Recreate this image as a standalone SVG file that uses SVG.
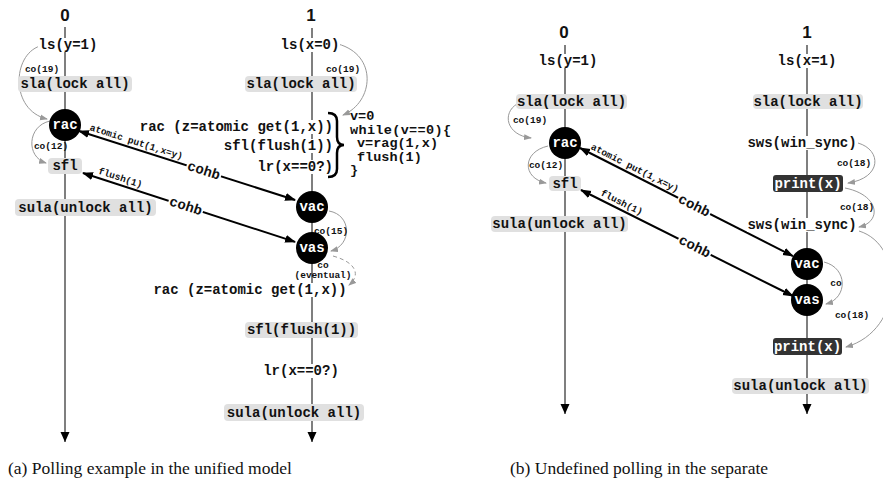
<svg xmlns="http://www.w3.org/2000/svg" width="883" height="492" viewBox="0 0 883 492">
<style>
.m{font-family:"Liberation Mono","DejaVu Sans Mono",monospace;font-weight:bold;fill:#111}
.l{font-size:14px}
.k{font-size:13.5px}
.s{font-size:9.5px}
.c{text-anchor:middle}
.e{text-anchor:end}
.num{font-family:"Liberation Sans",Arial,sans-serif;font-size:17px;font-weight:bold;text-anchor:middle;fill:#111}
.box{fill:#e0e0e0}
.dbox{fill:#333}
.thread{stroke:#555;stroke-width:1.5;fill:none}
.arc{fill:none;stroke:#999;stroke-width:1}
.cohb{stroke:#000;stroke-width:2;fill:none}
.bg{fill:#fff}
.cap{font-family:"Liberation Serif","DejaVu Serif",serif;font-size:17.5px;fill:#111}
</style>
<defs>
<marker id="tend" markerUnits="userSpaceOnUse" markerWidth="10" markerHeight="12" refX="10" refY="4.5" orient="auto" viewBox="0 0 10 9"><path d="M0,0 L10,4.5 L0,9 z" fill="#000"/></marker>
<marker id="ch" markerUnits="userSpaceOnUse" markerWidth="11" markerHeight="9" refX="10" refY="4" orient="auto-start-reverse" viewBox="0 0 11 8"><path d="M0,0 L11,4 L0,8 z" fill="#000"/></marker>
<marker id="ga" markerUnits="userSpaceOnUse" markerWidth="8" markerHeight="7" refX="7" refY="3" orient="auto" viewBox="0 0 8 6"><path d="M0,0 L8,3 L0,6 z" fill="#999"/></marker>
</defs>
<rect width="883" height="492" fill="#fff"/>

<g id="threads">
<line class="thread" x1="65" y1="27" x2="65" y2="442" marker-end="url(#tend)"/>
<line class="thread" x1="312" y1="28" x2="312" y2="442" marker-end="url(#tend)"/>
<line class="thread" x1="565" y1="45" x2="565" y2="414" marker-end="url(#tend)"/>
<line class="thread" x1="807" y1="45" x2="807" y2="414" marker-end="url(#tend)"/>
</g>

<g id="connectors">
<path class="arc" d="M40,46 C12,55 10,110 47,119" marker-end="url(#ga)"/>
<path class="arc" d="M50,121 C27,126 26,157 46,163" marker-end="url(#ga)"/>
<path class="arc" d="M338,44 C378,55 374,102 343,115" marker-end="url(#ga)"/>
<path class="arc" d="M329,211 C352,215 352,245 331,251" marker-end="url(#ga)"/>
<path class="arc" d="M333,256 C358,263 360,276 349,285" stroke-dasharray="4,3" marker-end="url(#ga)"/>
<path class="arc" d="M517,104 C502,113 506,135 531,138" marker-end="url(#ga)"/>
<path class="arc" d="M548,146 C522,152 522,178 546,183" marker-end="url(#ga)"/>
<path class="arc" d="M858,143 C882,150 882,178 848,183" marker-end="url(#ga)"/>
<path class="arc" d="M845,188 C880,195 882,222 859,227" marker-end="url(#ga)"/>
<path class="arc" d="M859,231 C905,245 905,330 846,347" marker-end="url(#ga)"/>
<path class="arc" d="M824,262 C848,268 848,298 826,304" marker-end="url(#ga)"/>
<text class="m s c" x="42" y="72">co(19)</text>
<text class="m s c" x="51" y="149">co(12)</text>
<text class="m s c" x="343" y="72">co(19)</text>
<text class="m s c" x="331" y="234">co(15)</text>
<text class="m s c" x="323" y="268">co</text>
<text class="m s c" x="323" y="278">(eventual)</text>
<text class="m s c" x="530" y="123">co(19)</text>
<text class="m s c" x="546" y="168">co(12)</text>
<text class="m s c" x="854" y="166">co(18)</text>
<text class="m s c" x="857" y="210">co(18)</text>
<text class="m s c" x="852" y="318">co(18)</text>
<text class="m s c" x="836" y="286">co</text>

<g transform="translate(79,131) rotate(17.7)">
<line class="cohb" x1="0" y1="0" x2="226.8" y2="0" marker-start="url(#ch)" marker-end="url(#ch)"/>
<text class="m s c" x="58" y="-4">atomic put(1,x=y)</text>
<rect class="bg" x="113" y="-7" width="36" height="14"/>
<text class="m l c" x="131" y="4">cohb</text>
</g>
<g transform="translate(83,173) rotate(18)">
<line class="cohb" x1="0" y1="0" x2="223" y2="0" marker-start="url(#ch)" marker-end="url(#ch)"/>
<text class="m s c" x="37" y="-4">flush(1)</text>
<rect class="bg" x="90" y="-7" width="36" height="14"/>
<text class="m l c" x="108" y="4">cohb</text>
</g>
<g transform="translate(580,148) rotate(26.9)">
<line class="cohb" x1="0" y1="0" x2="238.8" y2="0" marker-start="url(#ch)" marker-end="url(#ch)"/>
<text class="m s c" x="58" y="-4">atomic put(1,x=y)</text>
<rect class="bg" x="110" y="-7" width="36" height="14"/>
<text class="m l c" x="128" y="4">cohb</text>
</g>
<g transform="translate(581,190) rotate(26.57)">
<line class="cohb" x1="0" y1="0" x2="237" y2="0" marker-start="url(#ch)" marker-end="url(#ch)"/>
<text class="m s c" x="42" y="-4">flush(1)</text>
<rect class="bg" x="109" y="-7" width="36" height="14"/>
<text class="m l c" x="127" y="4">cohb</text>
</g>
</g>

<!-- Panel a, thread 0 -->
<g id="a-t0"><text class="num" x="65" y="21">0</text></g>
<g id="a-ls0"><rect class="bg" x="38" y="38" width="60" height="14"/><text class="m l c" x="68" y="49">ls(y=1)</text></g>
<g id="a-sla0"><rect class="box" x="18" y="76" width="114" height="16" rx="4"/><text class="m l c" x="75" y="88">sla(lock all)</text></g>
<g id="a-rac"><circle cx="65" cy="125" r="16" fill="#000"/><text class="m l c" x="65" y="129" style="fill:#fff">rac</text></g>
<g id="a-sfl"><rect class="box" x="48" y="158" width="34" height="16" rx="4"/><text class="m l c" x="65" y="170">sfl</text></g>
<g id="a-sula0"><rect class="box" x="15" y="199" width="141" height="17" rx="4"/><text class="m l c" x="85.5" y="212">sula(unlock all)</text></g>

<!-- Panel a, thread 1 -->
<g id="a-t1"><text class="num" x="311" y="21">1</text></g>
<g id="a-ls1"><rect class="bg" x="280" y="38" width="60" height="14"/><text class="m l c" x="310" y="49">ls(x=0)</text></g>
<g id="a-sla1"><rect class="box" x="245" y="76" width="112" height="16" rx="4"/><text class="m l c" x="301" y="88">sla(lock all)</text></g>
<g id="a-code">
<rect class="bg" x="138" y="120" width="196" height="14"/>
<text class="m l e" x="333" y="131">rac (z=atomic get(1,x))</text>
<rect class="bg" x="222" y="139" width="112" height="14"/>
<text class="m l e" x="333" y="150">sfl(flush(1))</text>
<rect class="bg" x="256" y="160" width="78" height="14"/>
<text class="m l e" x="333" y="171">lr(x==0?)</text>
<path d="M328,113 Q337,113 337,121 L337,137 Q337,145 344,145 Q337,145 337,153 L337,169 Q337,177 328,177" fill="none" stroke="#000" stroke-width="2.5"/>
<text class="m k" x="350" y="120">v=0</text>
<text class="m k" x="350" y="133.5" textLength="101">while(v==0){</text>
<text class="m k" x="357" y="147">v=rag(1,x)</text>
<text class="m k" x="357" y="160.5">flush(1)</text>
<text class="m k" x="350" y="174">}</text>
</g>
<g id="a-vac"><circle cx="312" cy="207" r="16" fill="#000"/><text class="m l c" x="312" y="211" style="fill:#fff">vac</text></g>
<g id="a-vas"><circle cx="312" cy="248" r="16" fill="#000"/><text class="m l c" x="312" y="252" style="fill:#fff">vas</text></g>
<g id="a-rac2"><rect class="bg" x="152" y="283" width="196" height="14"/><text class="m l c" x="250" y="294">rac (z=atomic get(1,x))</text></g>
<g id="a-sfl2"><rect class="box" x="245" y="322" width="113" height="16" rx="4"/><text class="m l c" x="301.5" y="334">sfl(flush(1))</text></g>
<g id="a-lr2"><rect class="bg" x="263" y="364" width="78" height="14"/><text class="m l c" x="301" y="375">lr(x==0?)</text></g>
<g id="a-sula1"><rect class="box" x="224" y="404" width="140" height="17" rx="4"/><text class="m l c" x="294" y="417">sula(unlock all)</text></g>

<!-- Panel b, thread 0 -->
<g id="b-t0"><text class="num" x="564" y="38">0</text></g>
<g id="b-ls0"><rect class="bg" x="538" y="54" width="60" height="14"/><text class="m l c" x="568" y="65">ls(y=1)</text></g>
<g id="b-sla0"><rect class="box" x="516" y="94" width="111" height="15" rx="4"/><text class="m l c" x="571.5" y="106">sla(lock all)</text></g>
<g id="b-rac"><circle cx="565" cy="143" r="16" fill="#000"/><text class="m l c" x="565" y="147" style="fill:#fff">rac</text></g>
<g id="b-sfl"><rect class="box" x="549" y="176" width="32" height="15" rx="4"/><text class="m l c" x="565" y="188">sfl</text></g>
<g id="b-sula0"><rect class="box" x="491" y="216" width="137" height="16" rx="4"/><text class="m l c" x="559.5" y="228">sula(unlock all)</text></g>

<!-- Panel b, thread 1 -->
<g id="b-t1"><text class="num" x="807" y="38">1</text></g>
<g id="b-ls1"><rect class="bg" x="777" y="54" width="60" height="14"/><text class="m l c" x="807" y="65">ls(x=1)</text></g>
<g id="b-sla1"><rect class="box" x="753" y="94" width="110" height="15" rx="4"/><text class="m l c" x="808" y="106">sla(lock all)</text></g>
<g id="b-sws1"><rect class="bg" x="747" y="136" width="111" height="14"/><text class="m l c" x="802" y="147">sws(win_sync)</text></g>
<g id="b-print1"><rect class="dbox" x="773" y="175" width="70" height="17" rx="3"/><text class="m l c" x="808" y="188" style="fill:#fff">print(x)</text></g>
<g id="b-sws2"><rect class="bg" x="747" y="218" width="111" height="14"/><text class="m l c" x="802" y="229">sws(win_sync)</text></g>
<g id="b-vac"><circle cx="807" cy="264" r="16" fill="#000"/><text class="m l c" x="807" y="268" style="fill:#fff">vac</text></g>
<g id="b-vas"><circle cx="807" cy="300" r="16" fill="#000"/><text class="m l c" x="807" y="304" style="fill:#fff">vas</text></g>
<g id="b-print2"><rect class="dbox" x="773" y="338" width="69" height="17" rx="3"/><text class="m l c" x="807.5" y="351" style="fill:#fff">print(x)</text></g>
<g id="b-sula1"><rect class="box" x="732" y="378" width="137" height="16" rx="4"/><text class="m l c" x="800.5" y="390">sula(unlock all)</text></g>

<text class="cap" x="8" y="474">(a) Polling example in the unified model</text>
<text class="cap" x="510" y="474">(b) Undefined polling in the separate</text>
</svg>
